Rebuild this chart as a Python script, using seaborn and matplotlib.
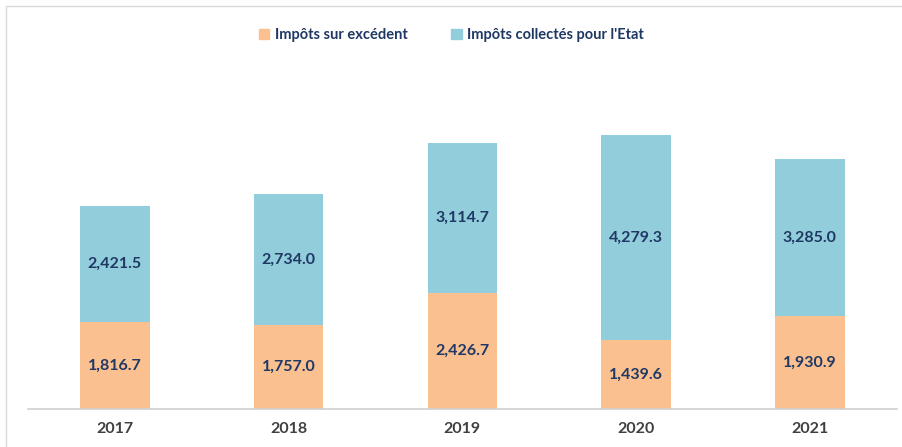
import matplotlib
matplotlib.use('Agg')
import matplotlib.pyplot as plt
import seaborn as sns
import pandas as pd
from matplotlib.patches import Patch, Rectangle

years = ['2017', '2018', '2019', '2020', '2021']
impots_excedent = [1816.7, 1757.0, 2426.7, 1439.6, 1930.9]
impots_etat = [2421.5, 2734.0, 3114.7, 4279.3, 3285.0]

orange = '#FAC090'
blue = '#92CDDC'
txt = '#1F3864'

sns.set_theme(style='white')
plt.rcParams['font.family'] = ['Lato', 'DejaVu Sans']

df = pd.DataFrame({'annee': years, 'excedent': impots_excedent, 'etat': impots_etat})

fig = plt.figure(figsize=(9.03, 4.47), dpi=100)
ax = fig.add_axes([0.031, 0.085, 0.962, 0.893])

sns.barplot(data=df, x='annee', y='excedent', color=orange, saturation=1, width=0.4,
            linewidth=0, ax=ax)
sns.barplot(data=df, x='annee', y='etat', color=blue, saturation=1, width=0.4,
            bottom=df['excedent'], linewidth=0, ax=ax)

for i, (a, b) in enumerate(zip(impots_excedent, impots_etat)):
    ax.text(i, a / 2, f'{a:,.1f}', ha='center', va='center', fontsize=11.5,
            color=txt, fontweight='bold')
    ax.text(i, a + b / 2, f'{b:,.1f}', ha='center', va='center', fontsize=11.5,
            color=txt, fontweight='bold')

ax.set_ylim(0, 8330)
ax.set_xlim(-0.5, 4.5)
ax.set_xlabel('')
ax.set_ylabel('')
ax.set_yticks([])
ax.tick_params(axis='x', length=0, pad=9, labelsize=11.5, labelcolor='#404040')
for lbl in ax.get_xticklabels():
    lbl.set_fontweight('bold')
for s in ['top', 'right', 'left']:
    ax.spines[s].set_visible(False)
ax.spines['bottom'].set_color('#D0D0D0')
ax.spines['bottom'].set_linewidth(1.2)

handles = [Patch(color=orange, label='Impôts sur excédent'),
           Patch(color=blue, label="Impôts collectés pour l'Etat")]
leg = fig.legend(handles=handles, loc='center', bbox_to_anchor=(0.5, 0.922), ncol=2,
                 frameon=False, fontsize=10.5, handlelength=0.7, handleheight=0.7,
                 handletextpad=0.4, columnspacing=3.0)
for t in leg.get_texts():
    t.set_color(txt)
    t.set_fontweight('bold')

fig.patches.append(Rectangle((0.007, -0.1), 1.2, 1.087, transform=fig.transFigure,
                             fill=False, edgecolor='#D9D9D9', linewidth=1))

fig.savefig('out.png', dpi=100)
